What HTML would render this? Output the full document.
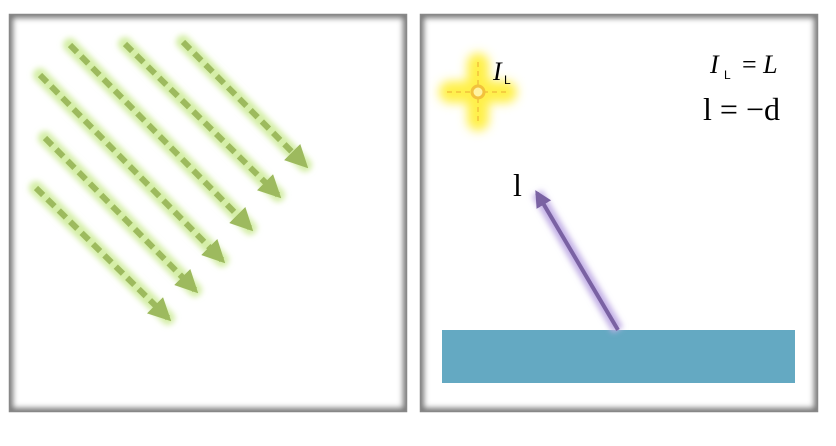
<!DOCTYPE html>
<html><head><meta charset="utf-8"><style>
body{margin:0;background:#fff;width:836px;height:446px;overflow:hidden}
svg{display:block}
text{font-family:"Liberation Serif",serif;fill:#000}
</style></head><body>
<svg width="836" height="446" viewBox="0 0 836 446">
<defs>
<filter id="glow" x="-30%" y="-30%" width="160%" height="160%"><feGaussianBlur stdDeviation="3"/></filter>
<filter id="glow2" x="-50%" y="-50%" width="200%" height="200%"><feGaussianBlur stdDeviation="5"/></filter>
<filter id="inset" x="-5%" y="-5%" width="110%" height="110%"><feGaussianBlur stdDeviation="3"/></filter>
<marker id="gh" viewBox="0 0 10 10" refX="8" refY="5" markerWidth="3.8" markerHeight="3.8" orient="auto"><path d="M0,0L10,5L0,10z" fill="#9dba5e"/></marker>
<marker id="ph" viewBox="0 0 10 10" refX="8" refY="5" markerWidth="4.2" markerHeight="4.2" orient="auto"><path d="M0,0L10,5L0,10z" fill="#7a62a3"/></marker>
<clipPath id="c1"><rect x="9" y="14" width="398" height="398"/></clipPath>
<clipPath id="c2"><rect x="420" y="14" width="398" height="398"/></clipPath>
</defs>
<g>
<rect x="9" y="14" width="398" height="398" fill="#fff"/>
<g clip-path="url(#c1)"><rect x="9" y="14" width="398" height="398" fill="none" stroke="#777" stroke-width="8" filter="url(#inset)"/></g>
<rect x="9.5" y="14.5" width="397" height="397" fill="none" stroke="#888" stroke-width="1.5"/>
<g id="rays"></g>
</g>
<g>
<rect x="420" y="14" width="398" height="398" fill="#fff"/>
<g clip-path="url(#c2)"><rect x="420" y="14" width="398" height="398" fill="none" stroke="#777" stroke-width="8" filter="url(#inset)"/></g>
<rect x="420.5" y="14.5" width="397" height="397" fill="none" stroke="#888" stroke-width="1.5"/>
<g>
<path d="M450,92H506M478,64V120" stroke="#fff04a" stroke-width="22" stroke-linecap="round" filter="url(#glow2)"/>
<path d="M447,92H510M478,62V122" stroke="#f2c23c" stroke-width="1.5" stroke-dasharray="5,4"/>
<circle cx="478" cy="92" r="6" fill="#fff3a0" stroke="#f2c23c" stroke-width="3"/>
</g>
<text x="493" y="80" font-size="26" font-style="italic">I</text>
<text x="504" y="84" font-size="12" font-family="Liberation Sans" style="font-family:'Liberation Sans',sans-serif">L</text>
<text x="710" y="73" font-size="26" font-style="italic">I</text>
<text x="724" y="79" font-size="12" style="font-family:'Liberation Sans',sans-serif">L</text>
<text x="742" y="73" font-size="26">= <tspan font-style="italic">L</tspan></text>
<text x="703" y="120" font-size="32">l = −d</text>
<rect x="442" y="330" width="353" height="53" fill="#64a9c2"/>
<line x1="618" y1="330" x2="537" y2="193" stroke="#c3b0e6" stroke-width="12" filter="url(#glow)"/>
<line x1="618" y1="330" x2="537" y2="193" stroke="#7a62a3" stroke-width="4" marker-end="url(#ph)"/>
<text x="513" y="196" font-size="32">l</text>
</g>
</svg>
<script>
const rayStartX=[36,45,40,70,125,183];
const rayStartY=[188,138,75,45,44,42];
const rayEndX=[168,195,222,250,278,305];
const rayEndY=[318,290,260,228,195,165];
const g=document.getElementById('rays');
const NS='http://www.w3.org/2000/svg';
for(let i=0;i<rayStartX.length;i++){
  const glow=document.createElementNS(NS,'line');
  glow.setAttribute('x1',rayStartX[i]);glow.setAttribute('y1',rayStartY[i]);
  glow.setAttribute('x2',rayEndX[i]);glow.setAttribute('y2',rayEndY[i]);
  glow.setAttribute('stroke','#d4eea6');glow.setAttribute('stroke-width','14');
  glow.setAttribute('stroke-linecap','round');glow.setAttribute('filter','url(#glow)');
  g.appendChild(glow);
}
for(let i=0;i<rayStartX.length;i++){
  const l=document.createElementNS(NS,'line');
  
  
  l.setAttribute('x1',rayStartX[i]);l.setAttribute('y1',rayStartY[i]);
  l.setAttribute('x2',rayEndX[i]);l.setAttribute('y2',rayEndY[i]);
  l.setAttribute('stroke','#9dba5e');l.setAttribute('stroke-width','6');
  l.setAttribute('stroke-dasharray','10,6');l.setAttribute('marker-end','url(#gh)');
  g.appendChild(l);
}
</script>
</body></html>
